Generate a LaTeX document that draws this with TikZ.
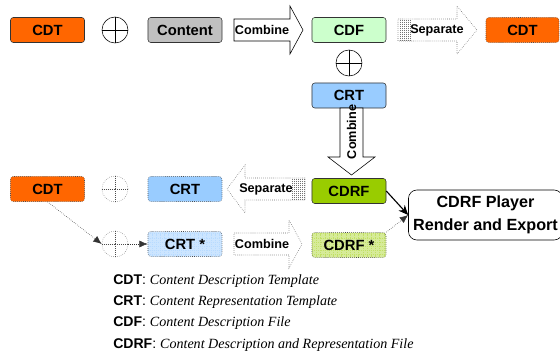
\documentclass[tikz,border=0pt]{standalone}
\usepackage{fontspec}
\setmainfont{Liberation Serif}
\setsansfont{Liberation Sans}
\usepackage{xcolor}
\usepackage{tikz}
\usetikzlibrary{positioning, patterns, arrows.meta}

\definecolor{cdtorange}{HTML}{FF6600}
\definecolor{contentgray}{HTML}{C0C0C0}
\definecolor{cdfgreen}{HTML}{CCFFCC}
\definecolor{crtblue}{HTML}{99CCFF}
\definecolor{cdrfgreen}{HTML}{99CC00}
\definecolor{crtlight}{HTML}{CCE5FF}
\definecolor{cdrflight}{HTML}{D6EB99}

\begin{document}
\begin{tikzpicture}[
        x=0.025cm, y=-0.025cm,
        box/.style={rectangle, rounded corners=2pt, draw=black!80, thin, minimum width=1.85cm, minimum height=0.625cm, inner sep=0pt, font=\sffamily\bfseries\fontsize{10.5}{12}\selectfont},
        ghost/.style={box, draw=black!70, densely dotted},
        plus/.style={circle, draw=black, thin, minimum size=0.65cm, inner sep=0pt},
        ghostplus/.style={plus, draw=black!50, densely dotted},
        blockarrow/.style={draw=black, thin, fill=white},
        ghostarrow/.style={blockarrow, draw=black!60, densely dotted},
        arrowtext/.style={font=\sffamily\bfseries\fontsize{9}{10}\selectfont, inner sep=0pt},
        stripe/.style={densely dotted, black!55, thin},
        relation/.style={-{Stealth[length=7pt, width=6pt]}, thick},
        ghostrel/.style={-{Latex[length=6pt, width=5pt]}, densely dotted, black!80},
        legend/.style={anchor=west, inner sep=0pt, font=\fontsize{10}{12}\selectfont}
    ]
        \useasboundingbox (0,0) rectangle (560,356);

        % Top row - CDT plus Content gives CDF
        \node[box, fill=cdtorange] (cdt) at (47.5,30) {CDT};
        \node[plus] (plusa) at (115,30) {};
        \node[box, fill=contentgray] (content) at (185,30) {Content};
        \draw[blockarrow] (234,19) -- (290,19) -- (290,6) -- (303,30) -- (290,54) -- (290,41) -- (234,41) -- cycle;
        \node[arrowtext] (combinea) at (262,30) {Combine};
        \node[box, fill=cdfgreen] (cdf) at (349,30) {CDF};
        \draw[ghostarrow] (398,19) -- (457,19) -- (457,6) -- (477,30) -- (457,54) -- (457,41) -- (398,41) -- cycle;
        \foreach \x in {400,402,...,410}
            \draw[stripe] (\x,20) -- (\x,40);
        \node[arrowtext] (separatea) at (437,30) {Separate};
        \node[ghost, fill=cdtorange, minimum width=1.825cm] (cdtout) at (522.5,30) {CDT};

        % Middle column - CDF plus CRT gives CDRF
        \node[plus] (plusb) at (349,63) {};
        \node[box, fill=crtblue] (crt) at (349,95.5) {CRT};
        \draw[blockarrow] (340,108) -- (340,157) -- (328,157) -- (351.5,175) -- (375,157) -- (363,157) -- (363,108) -- cycle;
        \node[arrowtext, rotate=90] (combineb) at (351.5,132) {Combine};
        \node[box, fill=cdrfgreen] (cdrf) at (349,191) {CDRF};

        % Second row - separating CDRF again
        \node[ghost, fill=cdtorange] (cdtmid) at (47.5,189) {CDT};
        \node[ghostplus] (plusc) at (115,189) {};
        \node[ghost, fill=crtblue] (crtmid) at (185,189) {CRT};
        \draw[ghostarrow] (305,178) -- (245,178) -- (245,165) -- (227,189) -- (245,213) -- (245,200) -- (305,200) -- cycle;
        \foreach \x in {292,294,...,304}
            \draw[stripe] (\x,179) -- (\x,199);
        \node[arrowtext] (separateb) at (266,189) {Separate};

        % Third row - modified CRT
        \node[ghostplus] (plusd) at (115,244) {};
        \node[ghost, preaction={fill=crtlight}, pattern=grid, pattern color=crtblue!70] (crtstar) at (185,244) {CRT *};
        \draw[ghostarrow] (234,233) -- (289,233) -- (289,220) -- (302,244) -- (289,268) -- (289,255) -- (234,255) -- cycle;
        \node[arrowtext] (combinec) at (262,244) {Combine};
        \node[ghost, preaction={fill=cdrflight}, pattern=grid, pattern color=cdrfgreen!60] (cdrfstar) at (349,245) {CDRF *};

        % Player
        \node[rectangle, rounded corners=6pt, draw=black, thin, minimum width=3.675cm, minimum height=1.25cm, align=center, font=\sffamily\bfseries\fontsize{11.5}{16}\selectfont] (player) at (485.5,215) {CDRF Player\\Render and Export};

        % Crosses in the plus signs
        \foreach \p in {plusa, plusb}
            \draw[thin] (\p.north) -- (\p.south) (\p.west) -- (\p.east);
        \foreach \p in {plusc, plusd}
            \draw[densely dotted, black!70] (\p.north) -- (\p.south) (\p.west) -- (\p.east);

        % Relationships
        \draw[relation] (cdrf.east) -- (player.west);
        \draw[ghostrel] (cdrfstar.north east) -- (player.west);
        \draw[ghostrel] (cdtmid.south) -- (plusd.west);
        \draw[ghostrel] (plusd.east) -- (crtstar.west);

        % Legend
        \node[legend] (legcdt) at (113,281) {\sffamily\bfseries CDT\mdseries: \rmfamily\itshape Content Description Template};
        \node[legend] (legcrt) at (113,302) {\sffamily\bfseries CRT\mdseries: \rmfamily\itshape Content Representation Template};
        \node[legend] (legcdf) at (113,323.5) {\sffamily\bfseries CDF\mdseries: \rmfamily\itshape Content Description File};
        \node[legend] (legcdrf) at (113,345) {\sffamily\bfseries CDRF\mdseries: \rmfamily\itshape Content Description and Representation File};
    \end{tikzpicture}
\end{document}
